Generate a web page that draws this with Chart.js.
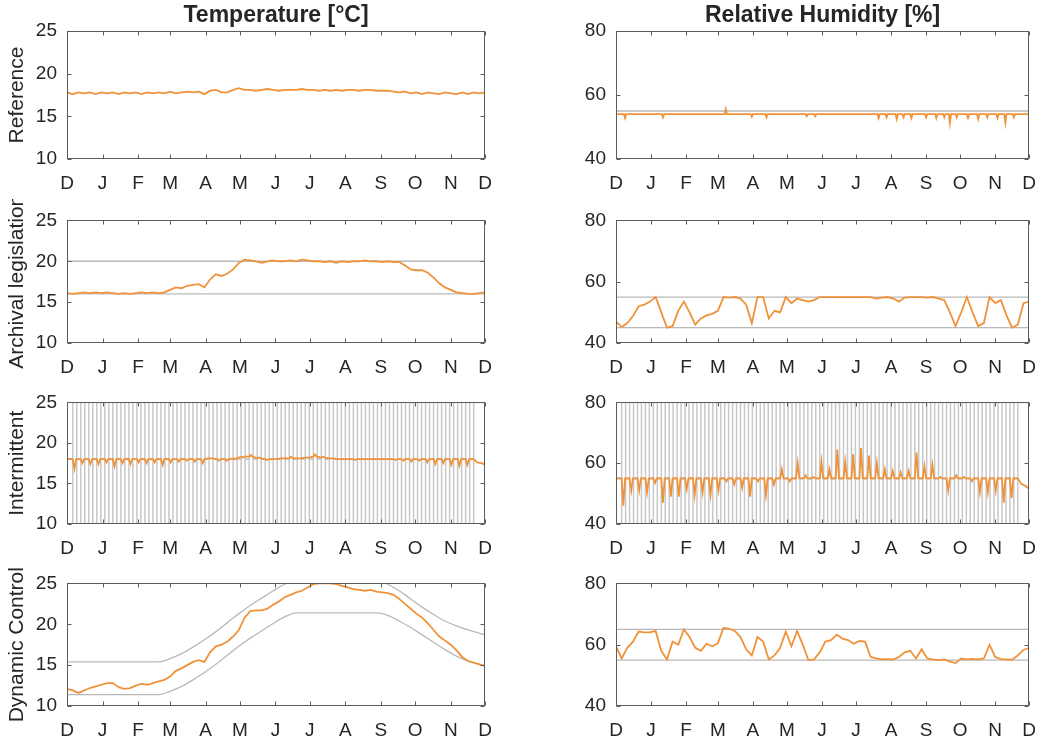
<!DOCTYPE html>
<html>
<head>
<meta charset="utf-8">
<script src="https://cdn.jsdelivr.net/npm/chart.js@4.4.1/dist/chart.umd.min.js"></script>
<style>
  html, body { margin: 0; padding: 0; background: #fff; }
  #page { position: relative; width: 1047px; height: 745px; overflow: hidden; }
  .panel { position: absolute; }
</style>
</head>
<body>
<div id="page"></div>
<script>
// x axis: days from 1 Dec, ticks at month starts
const monthDays = [0, 31, 62, 90, 121, 151, 182, 212, 243, 274, 304, 335, 365];
const monthLabels = ['D', 'J', 'F', 'M', 'A', 'M', 'J', 'J', 'A', 'S', 'O', 'N', 'D'];

// sampling grids (days)
const grid5 = [];
for (let d = 0; d <= 365; d += 5) grid5.push(d);
const grid10 = [0, 10, 20, 30, 40, 50, 60, 70, 80, 90, 100, 110, 120, 130, 140, 150, 160, 170, 180,
  190, 200, 210, 220, 230, 240, 250, 260, 270, 280, 290, 300, 310, 320, 330, 340, 350, 360, 365];

// Reference
const refTemp = [
  17.8, 17.6, 17.8, 17.7, 17.8, 17.6, 17.8, 17.7, 17.8, 17.6,
  17.8, 17.7, 17.8, 17.6, 17.8, 17.7, 17.8, 17.7, 17.9, 17.7,
  17.8, 17.9, 17.8, 17.9, 17.6, 18.0, 18.1, 17.8, 17.8, 18.1,
  18.3, 18.1, 18.1, 18.0, 18.1, 18.2, 18.1, 18.0, 18.1, 18.1,
  18.1, 18.2, 18.1, 18.1, 18.0, 18.1, 18.0, 18.1, 18.0, 18.1,
  18.1, 18.0, 18.1, 18.1, 18.0, 18.0, 18.0, 17.9, 17.8, 17.9,
  17.7, 17.8, 17.6, 17.8, 17.7, 17.6, 17.8, 17.7, 17.6, 17.8,
  17.6, 17.8, 17.7, 17.8];
const refRhBase = 54;
const refRhEventDays = [8, 41.5, 97, 120, 133, 168.5, 176, 232, 239, 248, 254, 261, 274, 283, 290,
  295, 301, 311, 320, 328, 337, 344, 351.5];
const refRhEventVals = [52.8, 53.0, 55.6, 53.2, 53.0, 53.4, 53.4, 52.8, 53.0, 52.5, 53.0, 52.8, 53.0,
  52.8, 53.0, 51.2, 53.0, 52.8, 52.5, 53.0, 52.8, 51.3, 53.0];
const refRhLimit = 55;

// Archival legislation
const archTemp = [
  16.1, 16.0, 16.1, 16.2, 16.1, 16.2, 16.1, 16.2, 16.1, 16.0,
  16.1, 16.0, 16.1, 16.2, 16.1, 16.2, 16.1, 16.2, 16.5, 16.8,
  16.7, 17.0, 17.1, 17.2, 16.8, 17.8, 18.4, 18.2, 18.5, 19.0,
  19.8, 20.2, 20.1, 20.0, 19.8, 20.0, 20.1, 20.0, 20.0, 20.1,
  20.0, 20.2, 20.1, 20.0, 20.0, 19.9, 20.0, 19.8, 20.0, 19.9,
  20.0, 20.0, 20.1, 20.0, 20.0, 19.9, 20.0, 19.9, 19.9, 19.5,
  19.0, 18.9, 18.9, 18.6, 18.0, 17.3, 16.8, 16.5, 16.2, 16.1,
  16.0, 16.0, 16.1, 16.2];
const archRh = [
  47.0, 45.2, 46.5, 48.8, 52.0, 52.5, 53.5, 55.0, 50.0, 45.0,
  45.5, 50.5, 53.5, 50.0, 46.0, 48.0, 49.0, 49.5, 50.5, 55.0,
  54.8, 55.0, 54.5, 52.5, 46.5, 55.0, 55.0, 48.0, 50.5, 50.0,
  55.0, 53.0, 54.5, 54.0, 53.5, 54.0, 55.0, 55.0, 55.0, 55.0,
  55.0, 55.0, 55.0, 55.0, 55.0, 55.0, 54.5, 54.8, 55.0, 54.5,
  53.5, 54.8, 55.0, 55.0, 55.0, 54.8, 55.0, 54.5, 54.0, 50.0,
  45.5, 50.0, 55.0, 50.0, 45.5, 46.5, 55.0, 53.0, 54.0, 49.0,
  45.0, 46.0, 53.0, 53.5];
const archTempLimits = [16, 20];
const archRhLimits = [45, 55];

// Intermittent: weekly switch-off periods (start day), set points and peaks
const offStart = [5, 12, 19, 26, 33, 40, 47, 54, 61, 68, 75, 82, 89, 96, 103, 110, 117, 124, 131, 138,
  145, 152, 159, 166, 173, 180, 187, 194, 201, 208, 215, 222, 229, 236, 243, 250, 257, 264, 271, 278,
  285, 292, 299, 306, 313, 320, 327, 334, 341, 348];
const offLength = 3.5;
const finalOff = 355;
const intTempSet = 18;
const intRhSet = 55;
const intTempBase = [
  18.0, 18.0, 18.0, 18.0, 18.0, 18.0, 18.0, 18.0, 18.0, 18.0,
  18.0, 18.0, 18.0, 18.0, 18.0, 18.0, 18.0, 18.1, 18.0, 18.0,
  18.1, 18.3, 18.3, 18.1, 18.0, 18.0, 18.1, 18.1, 18.1, 18.2,
  18.3, 18.2, 18.1, 18.0, 18.0, 18.0, 18.0, 18.0, 18.0, 18.0,
  18.0, 18.0, 18.0, 18.0, 18.0, 18.0, 18.0, 18.0, 18.0, 18.0];
const intTempPeak = [
  16.8, 17.5, 17.4, 17.4, 17.6, 17.1, 17.5, 17.4, 17.6, 17.5,
  17.6, 17.3, 17.6, 17.7, 17.8, 17.7, 17.5, 18.1, 17.8, 17.8,
  18.0, 18.2, 18.5, 18.2, 17.9, 18.0, 18.1, 18.3, 18.1, 18.2,
  18.6, 18.3, 18.1, 18.0, 18.0, 17.9, 18.0, 18.0, 18.0, 18.0,
  17.9, 17.8, 17.7, 17.8, 17.6, 17.4, 17.5, 17.3, 17.2, 17.3];
const intRhPeak = [
  46.0, 51.0, 51.0, 50.5, 53.5, 47.0, 49.0, 49.0, 51.5, 49.5,
  50.5, 49.5, 51.0, 54.0, 53.0, 52.0, 49.0, 54.0, 49.5, 53.0,
  58.0, 54.0, 60.0, 56.0, 55.5, 60.5, 58.0, 64.5, 60.5, 63.0,
  65.0, 62.5, 60.0, 58.0, 57.5, 57.0, 57.5, 63.5, 59.0, 59.5,
  55.5, 51.0, 56.0, 55.5, 54.0, 50.5, 50.5, 51.0, 47.0, 48.5];
const tailDays = [355, 358, 362, 365];
const intTempTail = [18.0, 17.6, 17.5, 17.3];
const intRhTail = [55.0, 53.2, 52.5, 51.5];

// Dynamic control
const dynTemp = [
  12.1, 11.9, 11.6, 11.9, 12.2, 12.4, 12.6, 12.8, 12.8, 12.3,
  12.1, 12.2, 12.5, 12.7, 12.6, 12.8, 13.0, 13.2, 13.6, 14.3,
  14.6, 15.0, 15.4, 15.6, 15.4, 16.6, 17.3, 17.5, 17.9, 18.5,
  19.3, 20.8, 21.6, 21.7, 21.7, 21.9, 22.4, 22.8, 23.3, 23.6,
  23.9, 24.1, 24.5, 24.9, 25.0, 25.0, 25.0, 24.9, 24.7, 24.5,
  24.3, 24.2, 24.1, 24.2, 24.0, 23.9, 23.8, 23.6, 23.1, 22.5,
  21.9, 21.3, 20.8, 20.1, 19.3, 18.5, 18.0, 17.5, 16.8, 16.0,
  15.5, 15.3, 15.1, 14.9];
const dynTempLower = [
  11.4, 11.4, 11.4, 11.4, 11.4, 11.4, 11.4, 11.4, 11.4, 11.8,
  12.4, 13.2, 14.1, 15.1, 16.2, 17.3, 18.3, 19.2, 20.1, 20.9,
  21.4, 21.4, 21.4, 21.4, 21.4, 21.4, 21.4, 21.4, 21.1, 20.4,
  19.6, 18.7, 17.8, 16.9, 16.1, 15.5, 15.1, 14.9];
const dynTempUpper = [
  15.4, 15.4, 15.4, 15.4, 15.4, 15.4, 15.4, 15.4, 15.4, 15.8,
  16.4, 17.2, 18.1, 19.1, 20.2, 21.3, 22.3, 23.2, 24.1, 24.9,
  25.4, 25.4, 25.4, 25.4, 25.4, 25.4, 25.4, 25.4, 24.9, 24.1,
  23.1, 22.1, 21.2, 20.4, 19.8, 19.3, 18.9, 18.7];
const dynRh = [
  59.5, 55.5, 59.0, 61.0, 64.3, 64.0, 64.0, 64.5, 58.0, 55.2,
  61.0, 60.0, 65.0, 62.5, 59.0, 58.0, 60.3, 59.5, 60.5, 65.5,
  65.2, 64.5, 62.5, 58.5, 56.5, 62.5, 61.0, 55.2, 56.5, 59.0,
  64.3, 59.5, 64.5, 60.0, 55.0, 55.2, 57.5, 61.0, 61.5, 63.3,
  62.0, 61.5, 60.3, 61.2, 61.0, 56.0, 55.5, 55.2, 55.3, 55.2,
  56.0, 57.5, 58.0, 55.5, 58.5, 55.5, 55.2, 55.0, 55.2, 54.5,
  54.0, 55.5, 55.2, 55.4, 55.2, 55.5, 60.0, 56.0, 55.3, 55.2,
  55.1, 56.5, 58.3, 59.0];
const dynRhLimits = [55, 65];

const ORANGE = '#f0923a';
const GRAY = '#b9b9b9';
const TEXT = '#262626';

Chart.defaults.font.family = "'Liberation Sans', Arial, sans-serif";
Chart.defaults.color = TEXT;

const onGrid = (grid, vals) => vals.map((v, i) => ({ x: grid[i], y: v }));
const hLine = (v) => [{ x: 0, y: v }, { x: 365, y: v }];

// flat level with short one-day excursions
function spikeSeries(base, days, vals) {
  const pts = [{ x: 0, y: base }];
  days.forEach((d, i) => pts.push({ x: d - 1, y: base }, { x: d, y: vals[i] }, { x: d + 1, y: base }));
  pts.push({ x: 365, y: base });
  return pts;
}

function intermittentSeries(base, peaks, tail) {
  const b = k => Array.isArray(base) ? base[k] : base;
  const pts = [{ x: 0, y: b(0) }];
  offStart.forEach((s, k) => {
    pts.push({ x: s, y: b(k) }, { x: s + 1.5, y: peaks[k] }, { x: s + 3, y: b(k) });
  });
  tailDays.forEach((d, i) => pts.push({ x: d, y: tail[i] }));
  return pts;
}

function scheduleBound(setPoint, openValue) {
  const pts = [{ x: 0, y: setPoint }];
  offStart.forEach(s => {
    pts.push({ x: s, y: setPoint }, { x: s, y: openValue },
      { x: s + offLength, y: openValue }, { x: s + offLength, y: setPoint });
  });
  pts.push({ x: finalOff, y: setPoint }, { x: finalOff, y: openValue }, { x: 365, y: openValue });
  return pts;
}

const orange = data => ({ data, borderColor: ORANGE, borderWidth: 1.8 });
const gray = (data, extra) => Object.assign({ data, borderColor: GRAY, borderWidth: 1.3 }, extra || {});

// box with inward tick marks, like the original axes
const boxPlugin = {
  id: 'box',
  afterDatasetsDraw(chart) {
    const { ctx, chartArea: a, scales: { x, y } } = chart;
    const L = Math.round(a.left) + 0.5, R = Math.round(a.right) - 0.5;
    const T = Math.round(a.top) + 0.5, B = Math.round(a.bottom) - 0.5;
    ctx.save();
    ctx.strokeStyle = '#5c5c5c';
    ctx.lineWidth = 1;
    ctx.strokeRect(L, T, R - L, B - T);
    ctx.beginPath();
    x.ticks.forEach(t => {
      const px = Math.round(x.getPixelForValue(t.value)) + 0.5;
      ctx.moveTo(px, B); ctx.lineTo(px, B - 4);
      ctx.moveTo(px, T); ctx.lineTo(px, T + 4);
    });
    y.ticks.forEach(t => {
      const py = Math.round(y.getPixelForValue(t.value)) + 0.5;
      ctx.moveTo(L, py); ctx.lineTo(L + 4, py);
      ctx.moveTo(R, py); ctx.lineTo(R - 4, py);
    });
    ctx.stroke();
    ctx.restore();
  }
};

// the x scale reserves half the last label plus tick padding (~20px) on the right
const cols = [
  { left: 0, width: 505, axisW: 67, yMin: 10, yMax: 25, step: 5, title: 'Temperature [°C]' },
  { left: 520, width: 529, axisW: 96, yMin: 40, yMax: 80, step: 20, title: 'Relative Humidity [%]' }
];
const rows = [
  { top: 0, height: 199, padTop: 0, xh: 40, label: 'Reference' },
  { top: 199, height: 184, padTop: 14, xh: 40, label: 'Archival legislation' },
  { top: 381, height: 183, padTop: 14, xh: 40, label: 'Intermittent' },
  { top: 562, height: 183, padTop: 14, xh: 39, label: 'Dynamic Control' }
];

function panel(row, col, datasets) {
  const c = cols[col], r = rows[row];
  const div = document.createElement('div');
  div.className = 'panel';
  div.style.left = c.left + 'px';
  div.style.top = r.top + 'px';
  div.style.width = c.width + 'px';
  div.style.height = r.height + 'px';
  const cv = document.createElement('canvas');
  div.appendChild(cv);
  document.getElementById('page').appendChild(div);

  new Chart(cv, {
    type: 'line',
    data: { datasets },
    options: {
      responsive: true,
      maintainAspectRatio: false,
      animation: false,
      events: [],
      layout: { padding: { top: r.padTop, right: 0, bottom: 0, left: 0 } },
      elements: { point: { radius: 0 }, line: { tension: 0, fill: false } },
      plugins: {
        legend: { display: false },
        tooltip: { enabled: false },
        title: {
          display: row === 0,
          text: c.title,
          fullSize: false,
          color: TEXT,
          font: { size: 23, weight: 'bold', lineHeight: 1.2 },
          padding: { top: 2, bottom: 1.4 }
        }
      },
      scales: {
        x: {
          type: 'linear',
          min: 0,
          max: 365,
          afterBuildTicks: axis => { axis.ticks = monthDays.map(v => ({ value: v })); },
          afterFit: s => { s.height = r.xh; },
          grid: { display: false, drawTicks: false },
          border: { display: false },
          ticks: {
            autoSkip: false,
            maxRotation: 0,
            padding: 13,
            color: TEXT,
            font: { size: 19 },
            callback: (v, i) => monthLabels[i]
          }
        },
        y: {
          min: c.yMin,
          max: c.yMax,
          afterFit: s => { s.width = c.axisW; },
          grid: { display: false, drawTicks: false },
          border: { display: false },
          ticks: { stepSize: c.step, padding: 10, color: TEXT, font: { size: 19 } },
          title: {
            display: col === 0,
            text: r.label,
            color: TEXT,
            font: { size: 21, lineHeight: 1.2 },
            padding: { top: 5, bottom: 0 }
          }
        }
      }
    },
    plugins: [boxPlugin]
  });
}

// Reference
panel(0, 0, [orange(onGrid(grid5, refTemp))]);
panel(0, 1, [orange(spikeSeries(refRhBase, refRhEventDays, refRhEventVals)), gray(hLine(refRhLimit))]);

// Archival legislation
panel(1, 0, [orange(onGrid(grid5, archTemp)),
  gray(hLine(archTempLimits[0])), gray(hLine(archTempLimits[1]))]);
panel(1, 1, [orange(onGrid(grid5, archRh)),
  gray(hLine(archRhLimits[0])), gray(hLine(archRhLimits[1]))]);

// Intermittent
const schedStyle = { borderColor: '#c8c8c8', borderWidth: 1.5 };
panel(2, 0, [orange(intermittentSeries(intTempBase, intTempPeak, intTempTail)),
  gray(scheduleBound(intTempSet, cols[0].yMax), schedStyle),
  gray(scheduleBound(intTempSet, cols[0].yMin), schedStyle)]);
panel(2, 1, [orange(intermittentSeries(intRhSet, intRhPeak, intRhTail)),
  gray(scheduleBound(intRhSet, cols[1].yMax), schedStyle),
  gray(scheduleBound(intRhSet, cols[1].yMin), schedStyle)]);

// Dynamic control
panel(3, 0, [orange(onGrid(grid5, dynTemp)),
  gray(onGrid(grid10, dynTempUpper), { cubicInterpolationMode: 'monotone' }),
  gray(onGrid(grid10, dynTempLower), { cubicInterpolationMode: 'monotone' })]);
panel(3, 1, [orange(onGrid(grid5, dynRh)),
  gray(hLine(dynRhLimits[0])), gray(hLine(dynRhLimits[1]))]);
</script>
</body>
</html>
